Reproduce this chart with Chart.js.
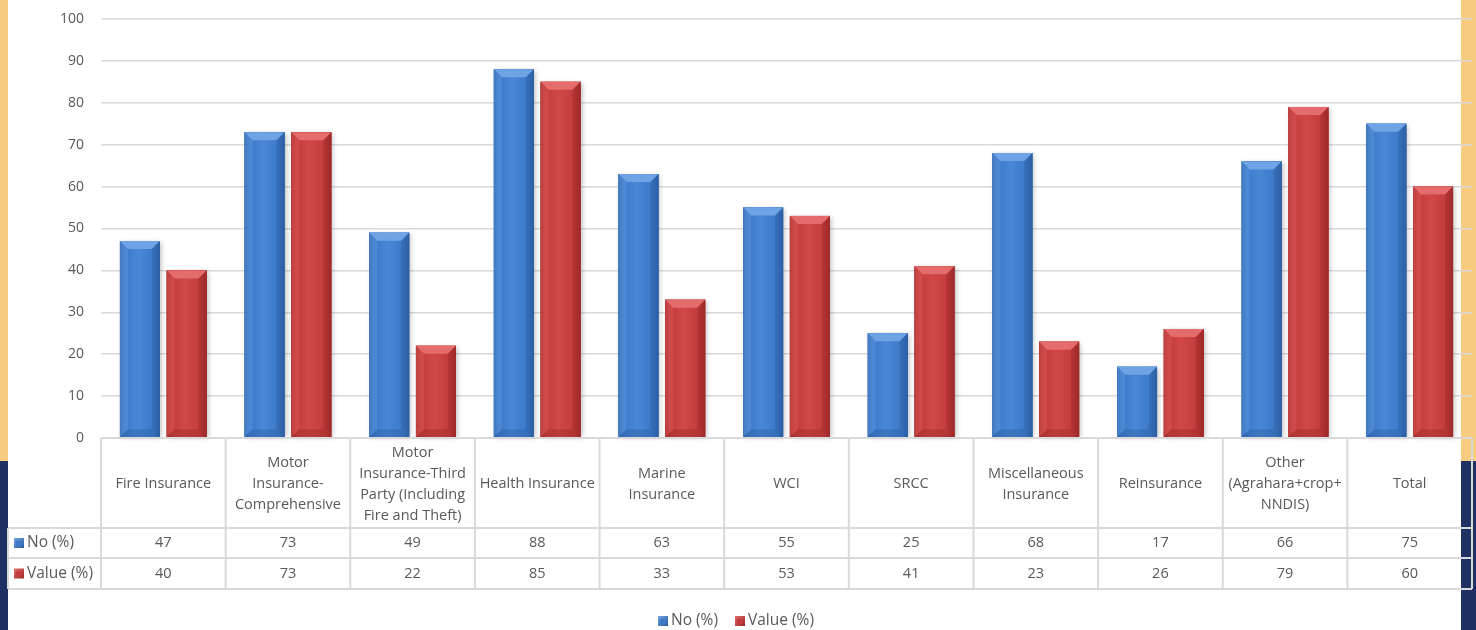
<!DOCTYPE html>
<html>
<head>
<meta charset="utf-8">
<script src="https://cdn.jsdelivr.net/npm/chart.js@4/dist/chart.umd.min.js"></script>
<style>
  html, body { margin: 0; padding: 0; background: #ffffff; }
  #c { display: block; }
</style>
</head>
<body>
<canvas id="c" width="1476" height="630"></canvas>
<script>
// Insurance categories (table header text, one entry per line)
const categories = [
  ['Fire Insurance'],
  ['Motor', 'Insurance-', 'Comprehensive'],
  ['Motor', 'Insurance-Third', 'Party (Including', 'Fire and Theft)'],
  ['Health Insurance'],
  ['Marine', 'Insurance'],
  ['WCI'],
  ['SRCC'],
  ['Miscellaneous', 'Insurance'],
  ['Reinsurance'],
  ['Other', '(Agrahara+crop+', 'NNDIS)'],
  ['Total']
];
const noPct    = [47, 73, 49, 88, 63, 55, 25, 68, 17, 66, 75];
const valuePct = [40, 73, 22, 85, 33, 53, 41, 23, 26, 79, 60];
const seriesNames = ['No (%)', 'Value (%)'];
const yTicks = [0, 10, 20, 30, 40, 50, 60, 70, 80, 90, 100];

const FONT = "'Open Sans', 'Noto Sans', sans-serif";
const TEXT = '#595959';
const LINE = '#d9d9d9';

// Shading palettes for the bevelled bars
const palettes = [
  { base: '#3b79c9', edge: '#2a5b9c', mid: '#4a88d6', top: '#6fa3e3', topL: '#5a93db', topR: '#2f63a8', bottom: '#2d5f9f' },
  { base: '#c33b3b', edge: '#982828', mid: '#d24848', top: '#e46c6c', topL: '#d85656', topR: '#a32c2c', bottom: '#9c2a2a' }
];

// Page background: yellow side bands above, navy below
const backdrop = {
  id: 'backdrop',
  beforeDraw(chart) {
    const c = chart.ctx;
    c.save();
    c.fillStyle = '#ffffff';
    c.fillRect(0, 0, 1476, 630);
    c.fillStyle = '#f8cc80';
    c.fillRect(0, 0, 8, 461);
    c.fillRect(1461, 0, 15, 461);
    c.fillStyle = '#1f3162';
    c.fillRect(0, 461, 8, 169);
    c.fillRect(1461, 461, 15, 169);
    c.restore();
  }
};

function shadeBar(c, x0, x1, top, bottom, p) {
  const w = x1 - x0;
  const g = c.createLinearGradient(x0, 0, x1, 0);
  g.addColorStop(0, p.edge);
  g.addColorStop(0.12, p.base);
  g.addColorStop(0.45, p.mid);
  g.addColorStop(0.85, p.base);
  g.addColorStop(1, p.edge);
  c.fillStyle = g;
  c.fillRect(x0, top, w, bottom - top);
  const b = Math.min(8, (bottom - top) / 2, w / 2);
  // top facet
  c.fillStyle = p.top;
  c.beginPath();
  c.moveTo(x0, top); c.lineTo(x1, top); c.lineTo(x1 - b, top + b); c.lineTo(x0 + b, top + b);
  c.closePath(); c.fill();
  // left facet
  c.globalAlpha = 0.55;
  c.fillStyle = p.topL;
  c.beginPath();
  c.moveTo(x0, top); c.lineTo(x0 + b, top + b); c.lineTo(x0 + b, bottom - b); c.lineTo(x0, bottom);
  c.closePath(); c.fill();
  // right facet
  c.fillStyle = p.topR;
  c.beginPath();
  c.moveTo(x1, top); c.lineTo(x1 - b, top + b); c.lineTo(x1 - b, bottom - b); c.lineTo(x1, bottom);
  c.closePath(); c.fill();
  // bottom facet
  c.globalAlpha = 0.4;
  c.fillStyle = p.bottom;
  c.beginPath();
  c.moveTo(x0, bottom); c.lineTo(x1, bottom); c.lineTo(x1 - b, bottom - b); c.lineTo(x0 + b, bottom - b);
  c.closePath(); c.fill();
  c.globalAlpha = 1;
}

// Bevel shading laid over each bar element, with a soft drop shadow
const bevel = {
  id: 'bevel',
  afterDatasetsDraw(chart) {
    const c = chart.ctx;
    chart.data.datasets.forEach((ds, di) => {
      const meta = chart.getDatasetMeta(di);
      meta.data.forEach(el => {
        const x0 = el.x - el.width / 2, x1 = el.x + el.width / 2;
        const top = Math.min(el.y, el.base), bottom = Math.max(el.y, el.base);
        c.save();
        c.shadowColor = 'rgba(0,0,0,0.25)';
        c.shadowBlur = 5;
        c.shadowOffsetX = 2;
        c.shadowOffsetY = 1;
        c.fillStyle = palettes[di].base;
        c.fillRect(x0, top, x1 - x0, bottom - top);
        c.restore();
        c.save();
        shadeBar(c, x0, x1, top, bottom, palettes[di]);
        c.restore();
      });
    });
  }
};

function legendKey(c, x, y, p) {
  const g = c.createLinearGradient(x, y, x + 10, y + 10);
  g.addColorStop(0, p.top);
  g.addColorStop(1, p.edge);
  c.fillStyle = g;
  c.fillRect(x, y, 10, 10);
  c.fillStyle = p.base;
  c.fillRect(x + 2, y + 3, 6, 5);
}

// Data table under the plot, aligned to the category scale, plus the legend
const dataTable = {
  id: 'dataTable',
  afterDraw(chart) {
    const c = chart.ctx;
    const xs = chart.scales.x;
    const L = chart.chartArea.left, R = chart.chartArea.right;
    const n = categories.length;
    const cw = (R - L) / n;
    const yTop = chart.chartArea.bottom;
    const yHead = yTop + 90, yRow1 = yHead + 30, yRow2 = yRow1 + 31;
    const leftEdge = 8;

    c.save();
    c.strokeStyle = LINE;
    c.lineWidth = 2;
    c.beginPath();
    c.moveTo(L, yTop); c.lineTo(R, yTop);
    [yHead, yRow1, yRow2].forEach(y => { c.moveTo(leftEdge, y); c.lineTo(R, y); });
    for (let i = 0; i <= n; i++) {
      const x = L + i * cw;
      c.moveTo(x, yTop); c.lineTo(x, yRow2);
    }
    c.moveTo(leftEdge, yHead); c.lineTo(leftEdge, yRow2);
    c.stroke();

    c.fillStyle = TEXT;
    c.font = '14.5px ' + FONT;
    c.textAlign = 'center';
    c.textBaseline = 'middle';
    const lh = 21;
    categories.forEach((lines, i) => {
      const cx = xs.getPixelForValue(i);
      const cy = (yTop + yHead) / 2 + 1;
      const y0 = cy - (lines.length - 1) * lh / 2;
      lines.forEach((t, k) => c.fillText(t, cx, y0 + k * lh));
    });
    const rows = [noPct, valuePct];
    const rowY = [(yHead + yRow1) / 2, (yRow1 + yRow2) / 2];
    rows.forEach((vals, r) => {
      c.font = '14.5px ' + FONT;
      c.textAlign = 'center';
      c.fillStyle = TEXT;
      vals.forEach((v, i) => c.fillText(String(v), xs.getPixelForValue(i), rowY[r]));
      legendKey(c, 14, rowY[r] - 5, palettes[r]);
      c.fillStyle = TEXT;
      c.textAlign = 'left';
      c.font = '15.5px ' + FONT;
      c.fillText(seriesNames[r], 27, rowY[r]);
    });

    // legend, centred on the page
    const ly = 621;
    c.textAlign = 'left';
    c.font = '15.5px ' + FONT;
    const w1 = c.measureText(seriesNames[0]).width;
    const w2 = c.measureText(seriesNames[1]).width;
    const total = 13 + w1 + 17 + 13 + w2;
    let x = 736 - total / 2;
    legendKey(c, x, ly - 5, palettes[0]);
    c.fillStyle = TEXT;
    c.fillText(seriesNames[0], x + 13, ly);
    x += 13 + w1 + 17;
    legendKey(c, x, ly - 5, palettes[1]);
    c.fillStyle = TEXT;
    c.fillText(seriesNames[1], x + 13, ly);
    c.restore();
  }
};

new Chart(document.getElementById('c'), {
  type: 'bar',
  data: {
    labels: categories.map(l => l.join(' ')),
    datasets: [
      { label: seriesNames[0], data: noPct, backgroundColor: palettes[0].base, borderWidth: 0 },
      { label: seriesNames[1], data: valuePct, backgroundColor: palettes[1].base, borderWidth: 0 }
    ]
  },
  options: {
    responsive: false,
    devicePixelRatio: 1,
    animation: false,
    categoryPercentage: 0.75,
    barPercentage: 0.856,
    layout: { padding: { left: 0, right: 4, top: 19, bottom: 192 } },
    plugins: { legend: { display: false }, tooltip: { enabled: false } },
    scales: {
      x: { display: false },
      y: {
        min: yTicks[0],
        max: yTicks[yTicks.length - 1],
        afterFit(s) { s.width = 101; },
        afterBuildTicks(s) { s.ticks = yTicks.map(v => ({ value: v })); },
        border: { display: false },
        grid: { color: LINE, lineWidth: 1.5, drawTicks: true, tickLength: 17, tickColor: 'rgba(0,0,0,0)' },
        ticks: { padding: 0, color: TEXT, font: { family: FONT, size: 14 } }
      }
    }
  },
  plugins: [backdrop, bevel, dataTable]
});
</script>
</body>
</html>
